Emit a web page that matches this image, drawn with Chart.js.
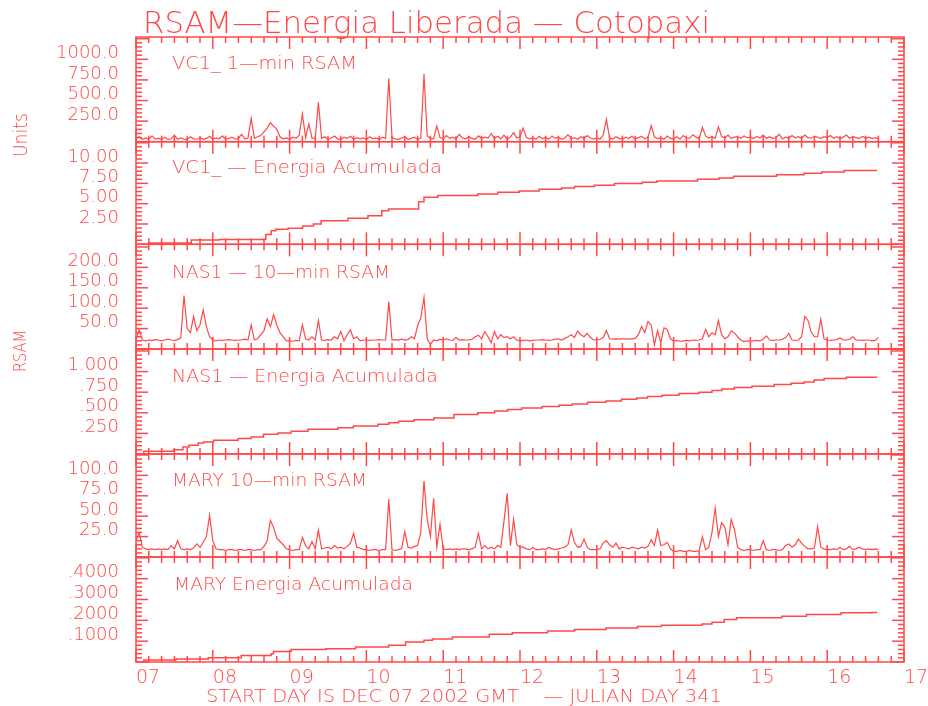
<!DOCTYPE html>
<html>
<head>
<meta charset="utf-8">
<script src="https://cdn.jsdelivr.net/npm/chart.js@4.4.1/dist/chart.umd.min.js"></script>
<style>
html,body{margin:0;padding:0;background:#fff;overflow:hidden}
#wrap{position:relative;width:928px;height:706px}
canvas{display:block}
</style>
</head>
<body>
<div id="wrap"><canvas id="c" width="928" height="706"></canvas></div>
<script>
// ---------------- DATA ----------------
const chartTitle = 'RSAM—Energia Liberada — Cotopaxi';
const xCaption = 'START DAY IS DEC 07 2002 GMT    — JULIAN DAY 341';
const sideLabelTop = 'Units';
const sideLabelMid = 'RSAM';
const panelTitles = ['VC1_ 1—min RSAM','VC1_ — Energia Acumulada','NAS1 — 10—min RSAM','NAS1 — Energia Acumulada','MARY 10—min RSAM','MARY Energia Acumulada'];

const dayTicks = [7,8,9,10,11,12,13,14,15,16,17];
const dayLabels = ['07','08','09','10','11','12','13','14','15','16','17'];

const yTickValues1 = [250,500,750,1000];   const yTickLabels1 = ['250.0','500.0','750.0','1000.0'];
const yTickValues2 = [2.5,5,7.5,10];       const yTickLabels2 = ['2.50','5.00','7.50','10.00'];
const yTickValues3 = [50,100,150,200];     const yTickLabels3 = ['50.0','100.0','150.0','200.0'];
const yTickValues4 = [0.25,0.5,0.75,1];    const yTickLabels4 = ['.250','.500','.750','1.000'];
const yTickValues5 = [25,50,75,100];       const yTickLabels5 = ['25.0','50.0','75.0','100.0'];
const yTickValues6 = [0.1,0.2,0.3,0.4];    const yTickLabels6 = ['.1000','.2000','.3000','.4000'];

// hourly samples starting at day 7.0
const rsamStartDay = 7.0;
const rsamStepDays = 1/24;

const vc1Rsam = [
 35,60,30,45,28,70,32,40,30,55,28,35,80,30,45,32,28,60,35,30,50,28,40,65,
 30,45,35,70,28,40,55,30,38,90,35,45,284,40,60,75,120,165,230,190,150,60,35,45,
 30,55,40,80,336,50,215,45,35,478,40,60,30,45,70,35,28,55,40,65,30,50,35,45,
 30,60,35,45,28,55,40,770,50,35,28,45,60,30,40,55,28,45,822,70,40,35,190,50,
 35,75,40,55,30,90,45,35,60,40,30,70,38,55,45,100,40,65,35,80,30,55,110,45,
 60,165,50,35,45,30,65,38,50,32,70,40,55,30,45,85,35,50,30,60,40,75,45,32,
 45,30,80,272,45,32,60,40,30,55,38,70,32,50,65,35,55,194,60,38,45,30,70,40,
 35,60,32,75,45,40,85,55,38,175,70,45,60,40,180,65,45,80,38,55,60,40,70,48,
 55,38,65,45,80,40,60,38,50,90,32,55,42,75,48,60,38,80,50,42,65,55,38,60,
 50,75,42,60,38,55,80,42,60,50,38,65,45,55,38,50,35
];

const nas1Rsam = [
 25,47,22,20,22,21,23,22,20,22,24,22,21,23,28,131,50,40,80,45,59,96,55,30,
 22,20,22,21,22,23,22,21,22,22,24,22,59,22,25,35,45,74,55,84,59,40,30,20,
 20,19,21,20,59,25,22,30,22,70,22,21,23,22,30,25,43,20,35,47,25,30,20,22,
 22,21,22,22,23,22,22,116,22,23,22,24,22,23,30,25,57,76,127,25,12,22,20,24,
 22,25,22,21,28,22,23,22,22,24,30,34,25,43,30,15,43,25,35,28,30,25,30,22,
 20,21,22,20,21,22,22,23,22,21,22,24,25,22,26,30,35,28,44,35,30,38,28,22,
 22,24,28,45,25,24,25,24,25,25,24,25,26,35,55,40,67,59,10,45,15,52,48,25,
 20,21,19,20,21,20,22,21,22,25,48,30,40,35,70,35,25,30,44,40,30,22,18,20,
 19,20,21,20,24,32,22,21,22,22,24,28,38,22,21,22,30,80,70,42,30,30,73,25,
 22,21,22,23,27,22,22,24,30,22,22,21,22,22,20,21,28
];

const maryRsam = [
 20,30,12,10,9,10,9,10,9,10,9,14,10,20,10,9,10,9,11,16,12,18,25,51,
 20,10,9,9,8,9,9,8,9,9,8,9,9,8,9,9,13,20,45,36,23,19,15,10,
 9,8,9,9,24,14,10,19,10,33,10,11,12,10,14,11,12,10,13,17,29,12,11,9,
 9,8,9,9,8,9,9,71,9,8,9,10,31,12,11,13,14,30,93,46,25,72,12,40,
 10,9,10,9,10,9,10,10,9,10,12,29,10,14,10,12,10,14,12,44,78,14,46,15,
 12,12,10,9,12,9,9,10,9,12,10,9,10,11,12,15,33,18,12,13,22,12,9,9,
 9,10,17,20,15,12,17,10,12,11,10,12,11,10,12,11,13,21,14,33,14,15,18,10,
 7,7,8,7,7,8,7,7,8,25,9,12,30,60,25,42,37,15,46,34,12,9,8,9,
 9,8,9,9,20,9,8,9,9,8,9,14,16,12,15,22,17,13,10,10,11,37,12,10,
 9,9,10,9,12,9,10,13,9,10,12,10,9,10,9,10,9
];

const vc1EnergyDays   = [7.17,7.72,8.08,8.69,8.76,8.82,8.98,9.17,9.31,9.41,9.76,10.02,10.20,10.29,10.68,10.75,10.93,11.45,11.71,11.99,12.25,12.54,12.71,12.97,13.23,13.59,13.78,14.31,14.59,14.78,15.34,15.70,15.93,16.22,16.44,16.65];
const vc1EnergyValues = [0.0,0.16,0.53,0.6,1.2,1.68,1.85,1.97,2.25,2.5,2.9,3.2,3.5,4.14,4.35,5.25,5.8,6.0,6.2,6.4,6.56,6.77,6.93,7.1,7.27,7.47,7.64,7.8,8.0,8.17,8.37,8.57,8.74,8.9,9.1,9.1];

const nas1EnergyDays   = [7.10,7.49,7.61,7.69,7.81,7.88,8.01,8.33,8.50,8.66,8.85,9.02,9.24,9.63,9.83,10.15,10.29,10.42,10.62,10.88,11.14,11.45,11.67,11.84,12.02,12.29,12.51,12.68,12.88,13.12,13.32,13.52,13.66,13.85,14.07,14.33,14.50,14.63,14.79,15.02,15.31,15.53,15.70,15.83,15.96,16.25,16.45,16.65];
const nas1EnergyValues = [0.01,0.033,0.053,0.085,0.105,0.133,0.146,0.166,0.187,0.206,0.239,0.255,0.275,0.3,0.32,0.34,0.36,0.38,0.397,0.417,0.437,0.478,0.502,0.522,0.539,0.558,0.575,0.591,0.607,0.627,0.643,0.664,0.68,0.697,0.712,0.733,0.749,0.77,0.789,0.806,0.822,0.842,0.858,0.874,0.898,0.915,0.931,0.931];

const maryEnergyDays   = [7.10,7.52,7.94,8.37,8.76,8.79,9.02,9.47,9.86,10.29,10.51,10.75,10.86,11.12,11.60,11.90,12.36,12.71,13.12,13.53,13.84,14.37,14.50,14.66,14.82,15.41,15.73,16.18,16.58,16.65];
const maryEnergyValues = [0.003,0.01,0.014,0.021,0.031,0.04,0.051,0.06,0.064,0.072,0.08,0.096,0.104,0.11,0.12,0.133,0.141,0.149,0.156,0.163,0.17,0.176,0.183,0.191,0.204,0.212,0.22,0.228,0.236,0.238];

// ---------------- STYLE / LAYOUT ----------------
const RED = 'rgb(255,72,72)';
const FONT = '"DejaVu Sans", "Liberation Sans", sans-serif';
const FW = '200';

const panels = [
  {id:'y1', step:250,  max:1271,  weight:104.7, values:yTickValues1, labels:yTickLabels1, titleBase:69},
  {id:'y2', step:2.5,  max:12.63, weight:102.6, values:yTickValues2, labels:yTickLabels2, titleBase:172.7},
  {id:'y3', step:50,   max:256.6, weight:104.7, values:yTickValues3, labels:yTickLabels3, titleBase:278},
  {id:'y4', step:0.25, max:1.274, weight:105,   values:yTickValues4, labels:yTickLabels4, titleBase:381.7},
  {id:'y5', step:25,   max:126.2, weight:103,   values:yTickValues5, labels:yTickLabels5, titleBase:486},
  {id:'y6', step:0.1,  max:0.504, weight:105,   values:yTickValues6, labels:yTickLabels6, titleBase:590}
];
const titleWidths = [185, 270, 218, 266, 195, 239];
const titleLefts  = [172, 172, 172, 172, 172, 174];

function hourly(arr){ return arr.map((v,i)=>({x: rsamStartDay + i*rsamStepDays, y: v})); }
function pairs(days, vals){ return days.map((d,i)=>({x: d, y: vals[i]})); }

const scales = {
  x: {
    type:'linear', min:7, max:17, position:'bottom',
    afterBuildTicks: s => { s.ticks = dayTicks.map(v => ({value:v})); },
    ticks:{ align:'start', maxRotation:0, autoSkip:false, padding:5, color:RED,
            font:{family:FONT, size:19, weight:FW},
            callback:(v,i)=> dayLabels[i] },
    grid:{display:false, drawTicks:false}, border:{display:false},
    afterFit: s => { s.height = 44; s.paddingLeft = 0; s.paddingRight = 0; }
  }
};
panels.forEach((p,k) => {
  scales[p.id] = {
    type:'linear', position:'left', stack:'panels', stackWeight:p.weight, weight:6-k,
    min:0, max:p.max,
    afterBuildTicks: s => { s.ticks = p.values.map(v => ({value:v})); },
    ticks:{ color:RED, padding:17, labelOffset:-6, autoSkip:false, font:{family:FONT, size:18, weight:FW},
            callback:(v,i)=> p.labels[i] },
    grid:{display:false, drawTicks:false}, border:{display:false},
    afterFit: s => { s.width = 136; s.paddingTop = 0; s.paddingBottom = 0; }
  };
});

function lineDS(label, axis, data, width, stepped){
  return {label, yAxisID:axis, xAxisID:'x', data, borderColor:RED, backgroundColor:RED,
          borderWidth:width, pointRadius:0, fill:false, tension:0, stepped: stepped || false};
}

function drawFit(ctx, text, x, base, size, width){
  ctx.font = FW + ' ' + size + 'px ' + FONT;
  const w = ctx.measureText(text).width;
  ctx.save();
  ctx.translate(x, base);
  ctx.scale(width / w, 1);
  ctx.textAlign = 'left';
  ctx.textBaseline = 'alphabetic';
  ctx.fillText(text, 0, 0);
  ctx.restore();
}

const framePlugin = {
  id:'frame',
  afterDraw(chart){
    const ctx = chart.ctx;
    const xs = chart.scales.x;
    const L = chart.chartArea.left, R = chart.chartArea.right;
    ctx.save();
    ctx.strokeStyle = RED;
    ctx.fillStyle = RED;
    ctx.lineWidth = 1.5;
    const seg = (x1,y1,x2,y2)=>{ ctx.beginPath(); ctx.moveTo(x1,y1); ctx.lineTo(x2,y2); ctx.stroke(); };
    panels.forEach((p,k) => {
      const s = chart.scales[p.id];
      const T = s.top, B = s.bottom;
      ctx.strokeRect(L, T, R - L, B - T);
      for (let j = 0; j <= 60; j++) {
        const x = xs.getPixelForValue(7 + j/6);
        const len = (j % 6 === 0) ? 12 : 6;
        seg(x, T, x, T + len);
        seg(x, B, x, B - len);
      }
      const minor = p.step / 5;
      const n = Math.floor(p.max / minor + 1e-6);
      for (let j = 0; j <= n; j++) {
        const y = s.getPixelForValue(j * minor);
        const len = (j % 5 === 0) ? 12 : 6;
        seg(L, y, L + len, y);
        seg(R, y, R - len, y);
      }
      drawFit(ctx, panelTitles[k], titleLefts[k], p.titleBase, 18, titleWidths[k]);
    });
    drawFit(ctx, chartTitle, 143, 33, 31, 567);
    drawFit(ctx, xCaption, 206, 701.5, 18, 516);
    // rotated side labels
    ctx.save(); ctx.translate(27, 157); ctx.rotate(-Math.PI/2);
    drawFit(ctx, sideLabelTop, 0, 0, 19, 44);
    ctx.restore();
    ctx.save(); ctx.translate(26, 372); ctx.rotate(-Math.PI/2);
    drawFit(ctx, sideLabelMid, 0, 0, 17, 42);
    ctx.restore();
    ctx.restore();
  }
};

new Chart(document.getElementById('c'), {
  type:'line',
  data:{ datasets:[
    lineDS('VC1_ 1-min RSAM','y1', hourly(vc1Rsam), 1.2),
    lineDS('VC1_ Energia Acumulada','y2', pairs(vc1EnergyDays, vc1EnergyValues), 1.5, 'after'),
    lineDS('NAS1 10-min RSAM','y3', hourly(nas1Rsam), 1.2),
    lineDS('NAS1 Energia Acumulada','y4', pairs(nas1EnergyDays, nas1EnergyValues), 1.5, 'after'),
    lineDS('MARY 10-min RSAM','y5', hourly(maryRsam), 1.2),
    lineDS('MARY Energia Acumulada','y6', pairs(maryEnergyDays, maryEnergyValues), 1.5, 'after')
  ]},
  options:{
    responsive:false, animation:false, devicePixelRatio:1,
    layout:{ padding:{ top:37, right:24, left:0, bottom:0 } },
    plugins:{ legend:{display:false}, tooltip:{enabled:false}, title:{display:false} },
    scales
  },
  plugins:[framePlugin]
});
</script>
</body>
</html>
